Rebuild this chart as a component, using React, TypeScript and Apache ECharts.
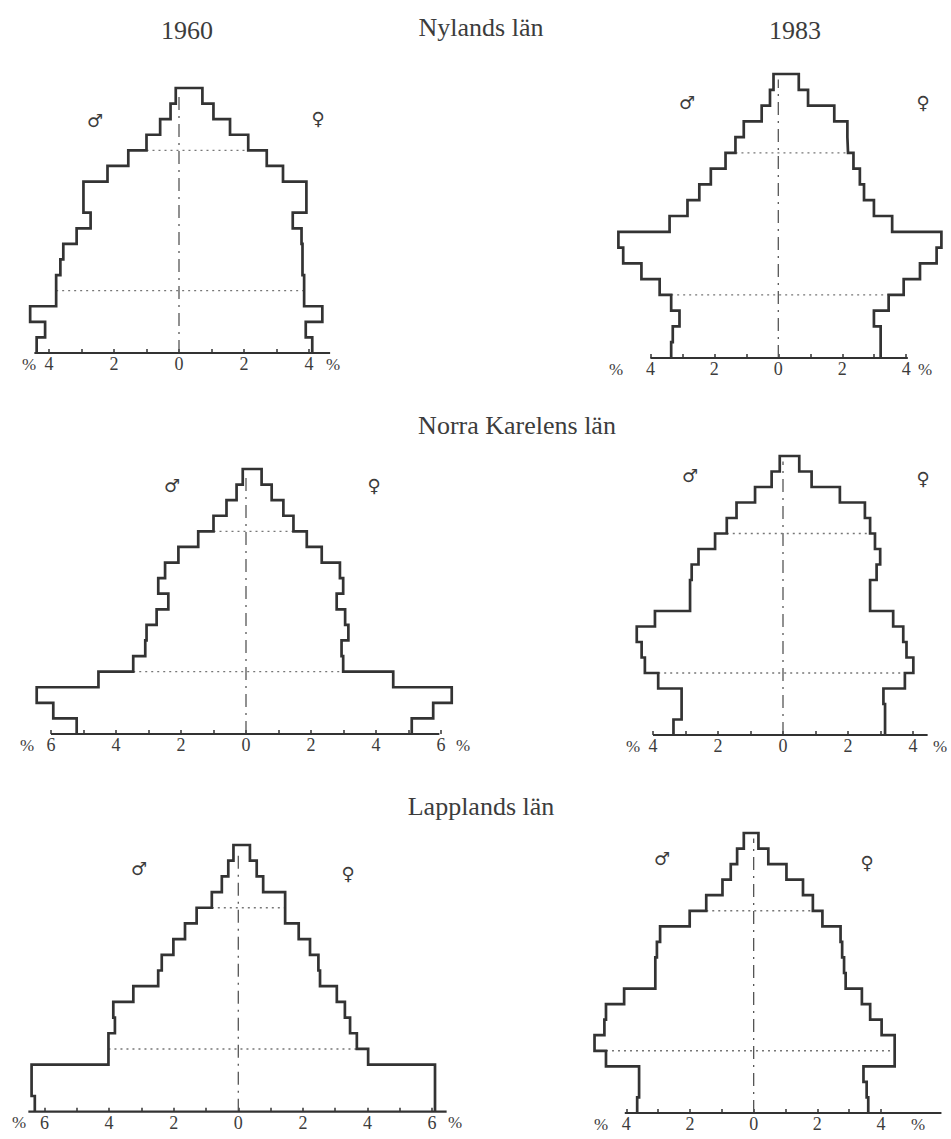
import React, { useEffect, useRef } from "react";
import * as echarts from "echarts";

// Five-year age groups, from 0–4 (first) upward. Values: % of population.
const NYL1960_MALE = [4.38, 4.12, 4.58, 3.78, 3.78, 3.65, 3.56, 3.15, 2.72, 2.94, 2.94, 2.2, 1.56, 1.0, 0.58, 0.26, 0.1];
const NYL1960_FEMALE = [4.1, 3.9, 4.41, 3.85, 3.85, 3.8, 3.8, 3.77, 3.5, 3.92, 3.92, 3.2, 2.7, 2.13, 1.57, 1.06, 0.72];
const NYL1983_MALE = [3.35, 3.3, 3.09, 3.35, 3.71, 4.28, 4.85, 5.0, 3.4, 2.84, 2.47, 2.11, 1.65, 1.34, 1.08, 0.52, 0.26, 0.15];
const NYL1983_FEMALE = [3.2, 3.2, 2.99, 3.45, 3.92, 4.43, 4.95, 5.1, 3.56, 2.99, 2.68, 2.55, 2.35, 2.18, 2.16, 1.75, 0.93, 0.64];
const NKA1960_MALE = [5.21, 5.93, 6.44, 4.54, 3.47, 3.1, 3.06, 2.75, 2.39, 2.7, 2.49, 2.08, 1.47, 1.0, 0.6, 0.29, 0.1];
const NKA1960_FEMALE = [5.1, 5.76, 6.33, 4.53, 2.99, 2.94, 3.15, 3.05, 2.79, 2.99, 2.89, 2.33, 1.87, 1.46, 1.15, 0.79, 0.48];
const NKA1983_MALE = [3.37, 3.12, 3.12, 3.84, 4.25, 4.35, 4.5, 3.94, 2.86, 2.86, 2.81, 2.6, 2.09, 1.73, 1.43, 0.86, 0.35, 0.1];
const NKA1983_FEMALE = [3.14, 3.14, 3.09, 3.75, 4.01, 3.8, 3.7, 3.39, 2.68, 2.68, 2.88, 2.99, 2.83, 2.68, 2.52, 1.75, 0.88, 0.5];
const LAP1960_MALE = [6.3, 6.4, 6.4, 4.02, 4.02, 3.82, 3.87, 3.25, 2.48, 2.37, 2.01, 1.65, 1.29, 0.82, 0.51, 0.31, 0.15];
const LAP1960_FEMALE = [6.09, 6.09, 6.09, 4.02, 3.67, 3.46, 3.3, 3.05, 2.53, 2.48, 2.22, 1.87, 1.45, 1.45, 0.77, 0.57, 0.36];
const LAP1983_MALE = [3.66, 3.6, 3.6, 4.64, 5.0, 4.69, 4.64, 4.07, 3.09, 3.09, 3.04, 2.94, 2.01, 1.49, 0.98, 0.72, 0.52, 0.31];
const LAP1983_FEMALE = [3.6, 3.55, 3.45, 4.43, 4.43, 4.02, 3.66, 3.4, 2.89, 2.84, 2.78, 2.73, 2.16, 1.86, 1.55, 1.03, 0.46, 0.15];

// Group boundaries marked with dotted lines (age 20 and age 65)
const DOTTED_BOUNDARIES = [4, 13];

const TICKS_4 = [-4, -3, -2, -1, 0, 1, 2, 3, 4];
const LABELS_4 = [-4, -2, 0, 2, 4];
const TICKS_6 = [-6, -5, -4, -3, -2, -1, 0, 1, 2, 3, 4, 5, 6];
const LABELS_6 = [-6, -4, -2, 0, 2, 4, 6];

const REGION_TITLES = ["Nylands län", "Norra Karelens län", "Lapplands län"];
const YEAR_TITLES = ["1960", "1983"];

const FONT = '"Liberation Serif", "DejaVu Serif", serif';
const INK = "#333333";
const TEXT = "#3c3c3c";

type Panel = {
  male: number[];
  female: number[];
  cx: number;
  unit: number;
  axisY: number;
  top: number;
  axStart: number;
  axEnd: number;
  ticks: number[];
  labels: number[];
  mars: [number, number];
  venus: [number, number];
  pctL: number;
  pctR: number;
};

const PANELS: Panel[] = [
  { male: NYL1960_MALE, female: NYL1960_FEMALE, cx: 179, unit: 32.5, axisY: 353, top: 88, axStart: -4.45, axEnd: 4.65, ticks: TICKS_4, labels: LABELS_4, mars: [95, 120], venus: [318, 118], pctL: 29, pctR: 333 },
  { male: NYL1983_MALE, female: NYL1983_FEMALE, cx: 780, unit: 32.3, axisY: 358, top: 74, axStart: -4.0, axEnd: 4.05, ticks: TICKS_4, labels: LABELS_4, mars: [687, 102], venus: [923, 102], pctL: 616, pctR: 925 },
  { male: NKA1960_MALE, female: NKA1960_FEMALE, cx: 246, unit: 32.5, axisY: 734, top: 469, axStart: -6.0, axEnd: 5.95, ticks: TICKS_6, labels: LABELS_6, mars: [172, 485], venus: [374, 485], pctL: 27, pctR: 463 },
  { male: NKA1983_MALE, female: NKA1983_FEMALE, cx: 783, unit: 32.5, axisY: 735, top: 456, axStart: -4.0, axEnd: 4.45, ticks: TICKS_4, labels: LABELS_4, mars: [690, 475], venus: [923, 478], pctL: 633, pctR: 940 },
  { male: LAP1960_MALE, female: LAP1960_FEMALE, cx: 238.3, unit: 32.3, axisY: 1111.7, top: 845, axStart: -6.5, axEnd: 6.45, ticks: TICKS_6, labels: LABELS_6, mars: [139, 868], venus: [348, 873], pctL: 19, pctR: 455 },
  { male: LAP1983_MALE, female: LAP1983_FEMALE, cx: 756.7, unit: 32.4, axisY: 1113, top: 833, axStart: -4.05, axEnd: 5.9, ticks: TICKS_4, labels: LABELS_4, mars: [662, 858], venus: [867, 862], pctL: 601, pctR: 918 },
];

function outline(male: number[], female: number[]): number[][] {
  const pts: number[][] = [];
  for (let i = 0; i < male.length; i++) {
    pts.push([-male[i], i]);
    pts.push([-male[i], i + 1]);
  }
  for (let i = female.length - 1; i >= 0; i--) {
    pts.push([female[i], i + 1]);
    pts.push([female[i], i]);
  }
  return pts;
}

function buildOption() {
  const grid: any[] = [];
  const xAxis: any[] = [];
  const yAxis: any[] = [];
  const series: any[] = [];
  const graphic: any[] = [];

  PANELS.forEach((p, i) => {
    const n = p.male.length;
    const gMin = Math.min(p.axStart, -Math.max(...p.male)) - 0.3;
    const gMax = Math.max(p.axEnd, Math.max(...p.female)) + 0.3;
    grid.push({
      left: p.cx + gMin * p.unit,
      width: (gMax - gMin) * p.unit,
      top: p.top,
      height: p.axisY - p.top,
      containLabel: false,
    });
    xAxis.push({
      type: "value",
      gridIndex: i,
      min: gMin,
      max: gMax,
      position: "bottom",
      axisLine: { show: false },
      axisTick: { show: true, inside: true, length: 4, customValues: p.ticks, lineStyle: { color: INK, width: 1.5 } },
      axisLabel: {
        show: true,
        customValues: p.labels,
        formatter: (v: number) => String(Math.abs(Math.round(v))),
        fontFamily: FONT,
        fontSize: 18,
        color: TEXT,
        margin: 2,
      },
      splitLine: { show: false },
    });
    yAxis.push({ type: "value", gridIndex: i, min: 0, max: n, show: false });

    // baseline (axis line)
    series.push({
      type: "line",
      xAxisIndex: i,
      yAxisIndex: i,
      data: [
        [p.axStart, 0],
        [p.axEnd, 0],
      ],
      symbol: "none",
      clip: false,
      silent: true,
      z: 4,
      lineStyle: { color: INK, width: 2.2 },
    });
    series.push({
      type: "line",
      xAxisIndex: i,
      yAxisIndex: i,
      data: outline(p.male, p.female),
      symbol: "none",
      clip: false,
      silent: true,
      z: 5,
      lineStyle: { color: INK, width: 2.7, join: "miter" },
    });
    series.push({
      type: "line",
      xAxisIndex: i,
      yAxisIndex: i,
      data: [
        [0, 0],
        [0, n - 0.35],
      ],
      symbol: "none",
      silent: true,
      z: 3,
      lineStyle: { color: "#555", width: 1.3, type: [13, 6, 2, 6] },
    });
    DOTTED_BOUNDARIES.forEach((k) => {
      series.push({
        type: "line",
        xAxisIndex: i,
        yAxisIndex: i,
        data: [
          [-Math.min(p.male[k - 1], p.male[k]), k],
          [Math.min(p.female[k - 1], p.female[k]), k],
        ],
        symbol: "none",
        silent: true,
        z: 3,
        lineStyle: { color: "#777", width: 1.4, type: [2, 4] },
      });
    });

    const sym = (t: string, pos: [number, number]) => ({
      type: "text",
      x: pos[0],
      y: pos[1],
      style: { text: t, font: `18px "DejaVu Sans", sans-serif`, fill: TEXT, align: "center", verticalAlign: "middle" },
    });
    graphic.push(sym("♂", p.mars));
    graphic.push(sym("♀", p.venus));
    const pct = (x: number) => ({
      type: "text",
      x,
      y: p.axisY + 11,
      style: { text: "%", font: `17px ${FONT}`, fill: TEXT, align: "center", verticalAlign: "middle" },
    });
    graphic.push(pct(p.pctL));
    graphic.push(pct(p.pctR));
  });

  const title = (t: string, x: number, y: number) => ({
    type: "text",
    x,
    y,
    style: { text: t, font: `26px ${FONT}`, fill: TEXT, align: "center", verticalAlign: "middle" },
  });
  graphic.push(title(YEAR_TITLES[0], 187, 30));
  graphic.push(title(REGION_TITLES[0], 481, 27));
  graphic.push(title(YEAR_TITLES[1], 795, 30));
  graphic.push(title(REGION_TITLES[1], 517, 425));
  graphic.push(title(REGION_TITLES[2], 481, 806));

  return {
    animation: false,
    backgroundColor: "#ffffff",
    grid,
    xAxis,
    yAxis,
    series,
    graphic,
  };
}

export default function App() {
  const ref = useRef<HTMLDivElement>(null);
  useEffect(() => {
    if (!ref.current) return;
    const chart = echarts.init(ref.current, undefined, { renderer: "svg" });
    chart.setOption(buildOption() as any);
    return () => chart.dispose();
  }, []);
  return (
    <div
      ref={ref}
      style={{ position: "fixed", left: 0, top: 0, width: 951, height: 1139, background: "#fff" }}
    />
  );
}
